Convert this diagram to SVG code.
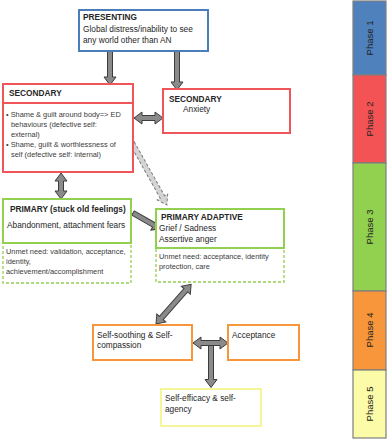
<svg xmlns="http://www.w3.org/2000/svg" width="388" height="440" viewBox="0 0 388 440">
<style>
text{font-family:"Liberation Sans",Arial,sans-serif;fill:#262626;font-size:8.3px}
.b{font-weight:bold}
.s{font-size:7.4px;fill:#3a3a3a}
.box{fill:#fff;stroke-width:2}
.arr{fill:#8a8a8a;stroke:#3c3c3c;stroke-width:1;stroke-linejoin:miter}
.darr{fill:#d4d4d4;stroke:#7a7a7a;stroke-width:1;stroke-dasharray:3 2}
.ph{font-size:9.5px;fill:#222}
.pr{stroke:#7f7f7f;stroke-width:1.2}
</style>
<g id="phases">
<rect class="pr" x="353" y="1" width="33" height="74" fill="#4f81bd"/>
<rect class="pr" x="353" y="75" width="33" height="88" fill="#f35355"/>
<rect class="pr" x="353" y="163" width="33" height="128" fill="#92d050"/>
<rect class="pr" x="353" y="291" width="33" height="79" fill="#f7963a"/>
<rect class="pr" x="353" y="370" width="33" height="68" fill="#fbfba8"/>
<text class="ph" transform="translate(373,38) rotate(-90)" text-anchor="middle">Phase 1</text>
<text class="ph" transform="translate(373,119) rotate(-90)" text-anchor="middle">Phase 2</text>
<text class="ph" transform="translate(373,227) rotate(-90)" text-anchor="middle">Phase 3</text>
<text class="ph" transform="translate(373,330) rotate(-90)" text-anchor="middle">Phase 4</text>
<text class="ph" transform="translate(373,404) rotate(-90)" text-anchor="middle">Phase 5</text>
</g>
<g id="connectors">
<polygon class="arr" transform="translate(110,51) rotate(90)" points="0,-2.5 26,-2.5 26,-6 34,0 26,6 26,2.5 0,2.5"/>
<polygon class="arr" transform="translate(177,51) rotate(90)" points="0,-2.5 31,-2.5 31,-6 39,0 31,6 31,2.5 0,2.5"/>
<polygon class="arr" transform="translate(134,118)" points="0,0 8,-6 8,-2.5 21,-2.5 21,-6 29,0 21,6 21,2.5 8,2.5 8,6"/>
<polygon class="arr" transform="translate(61,173) rotate(90)" points="0,0 8,-6 8,-2.5 18,-2.5 18,-6 26,0 18,6 18,2.5 8,2.5 8,6"/>
<polygon class="arr" transform="translate(133,213) rotate(29.7)" points="0,-2.5 24,-2.5 24,-6 32,0 24,6 24,2.5 0,2.5"/>
<polygon class="darr" transform="translate(132,143) rotate(60.6)" points="0,-2.5 62,-2.5 62,-6 71,0 62,6 62,2.5 0,2.5"/>
<polygon class="arr" transform="translate(156,324) rotate(-48.5)" points="0,0 8,-6 8,-2.5 45,-2.5 45,-6 53,0 45,6 45,2.5 8,2.5 8,6"/>
<polygon class="arr" transform="translate(193,343)" points="0,0 8,-6 8,-2.5 27,-2.5 27,-6 35,0 27,6 27,2.5 8,2.5 8,6"/>
<polygon class="arr" transform="translate(211,345.5) rotate(90)" points="0,-2.5 34,-2.5 34,-6 42,0 34,6 34,2.5 0,2.5"/>
</g>
<g id="presenting">
<rect class="box" x="79" y="10" width="129" height="41" stroke="#4a7ebb"/>
<text class="b" x="83" y="20">PRESENTING</text>
<text x="83" y="32">Global distress/inability to see</text>
<text x="83" y="43">any world other than AN</text>
</g>
<g id="secondary">
<rect class="box" x="3" y="84" width="130" height="88" stroke="#f0555a"/>
<line x1="3" y1="103" x2="133" y2="103" stroke="#f0555a" stroke-width="2"/>
<text class="b" x="9" y="96">SECONDARY</text>
<text class="s" x="6" y="117">• Shame &amp; guilt around body=&gt; ED</text>
<text class="s" x="11" y="127">behaviours (defective self:</text>
<text class="s" x="11" y="136.5">external)</text>
<text class="s" x="6" y="147">• Shame, guilt &amp; worthlessness of</text>
<text class="s" x="11" y="157">self (defective self: internal)</text>
</g>
<g id="anxiety">
<rect class="box" x="163" y="89" width="127" height="44" stroke="#f0555a"/>
<text class="b" x="169" y="102">SECONDARY</text>
<text x="183" y="112">Anxiety</text>
</g>
<g id="primary">
<rect x="3" y="243" width="128" height="40" fill="#fff" stroke="#92d050" stroke-width="1.3" stroke-dasharray="3 2"/>
<rect class="box" x="3" y="199" width="128" height="44" stroke="#92d050"/>
<text class="b" x="10" y="212">PRIMARY (stuck old feelings)</text>
<text x="7" y="228" fill="#404040">Abandonment, attachment fears</text>
<text class="s" x="6" y="254">Unmet need: validation, acceptance,</text>
<text class="s" x="6" y="264">identity,</text>
<text class="s" x="6" y="274">achievement/accomplishment</text>
</g>
<g id="primary-adaptive">
<rect x="156" y="248" width="128" height="34" fill="#fff" stroke="#92d050" stroke-width="1.3" stroke-dasharray="3 2"/>
<rect class="box" x="156" y="209" width="128" height="39" stroke="#92d050"/>
<text class="b" x="161" y="220">PRIMARY ADAPTIVE</text>
<text x="159" y="231">Grief / Sadness</text>
<text x="159" y="242">Assertive anger</text>
<text class="s" x="159" y="259">Unmet need: acceptance, identity</text>
<text class="s" x="159" y="269">protection, care</text>
</g>
<g id="self-soothing">
<rect class="box" x="93" y="325" width="99" height="35" stroke="#f7963a"/>
<text x="97" y="338">Self-soothing &amp; Self-</text>
<text x="97" y="348">compassion</text>
</g>
<g id="acceptance">
<rect class="box" x="228" y="325" width="71" height="35" stroke="#f7963a"/>
<text x="232" y="338">Acceptance</text>
</g>
<g id="self-efficacy">
<rect class="box" x="161" y="389" width="100" height="37" stroke="#f5f59a"/>
<text x="165" y="401">Self-efficacy &amp; self-</text>
<text x="165" y="412">agency</text>
</g>
</svg>
